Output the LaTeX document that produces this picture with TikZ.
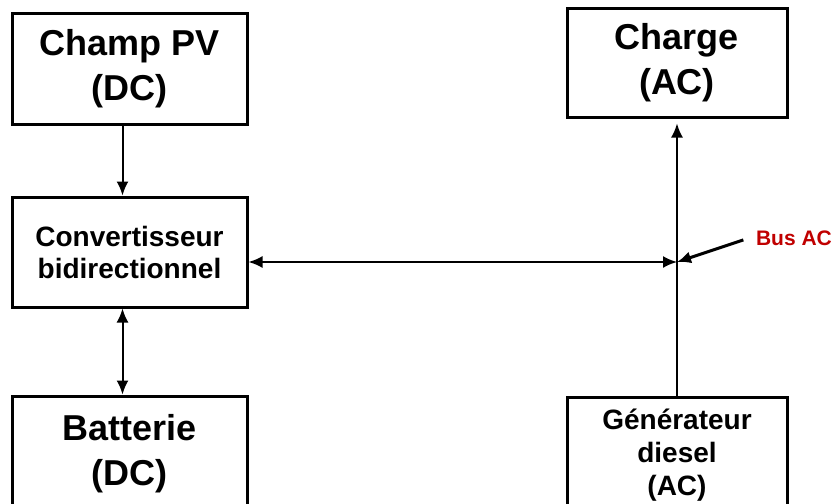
\documentclass[tikz,border=0pt]{standalone}
\usepackage{fontspec}
\setmainfont{Liberation Sans}
\usepackage{xcolor}
\usetikzlibrary{arrows.meta}

\definecolor{busred}{RGB}{192,0,0}

\begin{document}
\begin{tikzpicture}[x=0.5pt, y=-0.5pt,
  bigbox/.style={rectangle, draw, line width=1.5pt, minimum width=117.5pt, align=center, font=\bfseries\fontsize{18}{22.5}\selectfont},
  smallbox/.style={rectangle, draw, line width=1.5pt, minimum width=117.5pt, align=center, font=\bfseries\fontsize{14}{16}\selectfont},
  link/.style={line width=1pt, -{Latex[length=7pt, width=6pt]}},
  dlink/.style={line width=1pt, {Latex[length=7pt, width=6pt]}-{Latex[length=7pt, width=6pt]}}]

\clip (0,0) rectangle (832,504);

\node[bigbox, minimum height=55.5pt] (pv) at (129.5,68.5) {Champ PV\\(DC)};
\node[bigbox, minimum width=110pt, minimum height=54.5pt] (load) at (677,62.5) {Charge\\(AC)};
\node[smallbox, minimum height=55pt] (conv) at (129.5,252) {Convertisseur\\bidirectionnel};
\node[bigbox, minimum height=57.5pt] (bat) at (129.5,453.5) {Batterie\\(DC)};
\node[smallbox, minimum width=110pt, minimum height=58pt, font=\bfseries\fontsize{14}{16.5}\selectfont] (gen) at (677,455) {Générateur\\diesel\\(AC)};

\coordinate (busnode) at (677,262);
\node[text=busred, font=\bfseries\fontsize{10.5}{12}\selectfont] (buslbl) at (794,238) {Bus AC};

\draw[link] ([xshift=-3.5pt]pv.south) -- ([xshift=-3.5pt]conv.north);
\draw[dlink] ([xshift=-3.5pt]conv.south) -- ([xshift=-3.5pt]bat.north);
\draw[dlink] (conv.east |- busnode) -- (busnode);
\draw[link, shorten >=2.5pt] (gen.north) -- (load.south);
\draw[link, line width=1.5pt, shorten <=3pt] (buslbl.west) -- (busnode);
\end{tikzpicture}
\end{document}
